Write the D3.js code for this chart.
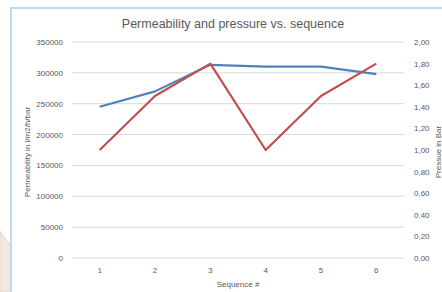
<!DOCTYPE html>
<html><head><meta charset="utf-8">
<script src="https://cdn.jsdelivr.net/npm/d3@7"></script>
<style>html,body{margin:0;padding:0;background:#fff;overflow:hidden}</style>
</head><body>
<svg id="c" width="442" height="292"></svg>
<script>
const categories = ["1","2","3","4","5","6"];
const permeability = [245000, 270000, 313000, 310000, 310000, 298000];
const pressure = [1.00, 1.50, 1.80, 1.00, 1.50, 1.80];
const leftTicks = [0,50000,100000,150000,200000,250000,300000,350000];
const rightTicks = [0,0.2,0.4,0.6,0.8,1.0,1.2,1.4,1.6,1.8,2.0];

const svg = d3.select("#c");
const font = "'Liberation Sans', Arial, sans-serif";
const txt = "#595959";

// background decoration: beige shape bottom-left
svg.append("path").attr("d","M0,231 L11,246 L11,292 L0,292 Z").attr("fill","#f2e9dc").attr("stroke","#d8cfc2").attr("stroke-width",0.6);
// chart frame
svg.append("rect").attr("x",11).attr("y",8).attr("width",440).attr("height",300)
  .attr("fill","#fff").attr("stroke","#bcd9f1").attr("stroke-width",2);

const x = d3.scaleBand().domain(categories).range([72,404]);
const yL = d3.scaleLinear().domain([0,350000]).range([258,42]);
const yR = d3.scaleLinear().domain([0,2]).range([258,42]);

// gridlines
svg.append("g").selectAll("line").data(leftTicks).join("line")
  .attr("x1",72).attr("x2",404).attr("y1",d=>yL(d)).attr("y2",d=>yL(d))
  .attr("stroke","#d9d9d9").attr("stroke-width",1);

// left axis
const gL = svg.append("g").attr("transform","translate(72,0)")
  .call(d3.axisLeft(yL).tickValues(leftTicks).tickSize(0).tickPadding(9).tickFormat(d3.format("d")));
gL.select(".domain").remove();
gL.selectAll("text").attr("fill",txt).style("font-family",font).style("font-size","8px");

// right axis
const gR = svg.append("g").attr("transform","translate(404,0)")
  .call(d3.axisRight(yR).tickValues(rightTicks).tickSize(0).tickPadding(10).tickFormat(d=>d3.format(".2f")(d).replace(".",",")));
gR.select(".domain").remove();
gR.selectAll("text").attr("fill",txt).style("font-family",font).style("font-size","8px");

// bottom axis
const gB = svg.append("g").attr("transform","translate(0,258)")
  .call(d3.axisBottom(x).tickSize(0).tickPadding(9));
gB.select(".domain").remove();
gB.selectAll("text").attr("fill",txt).style("font-family",font).style("font-size","8px");

// lines
const cx = d => x(d) + x.bandwidth()/2;
svg.append("path").datum(categories.map((c,i)=>[cx(c),yL(permeability[i])]))
  .attr("d",d3.line()).attr("fill","none").attr("stroke","#4f81bd").attr("stroke-width",2.2).attr("stroke-linejoin","round");
svg.append("path").datum(categories.map((c,i)=>[cx(c),yR(pressure[i])]))
  .attr("d",d3.line()).attr("fill","none").attr("stroke","#c0504d").attr("stroke-width",2.2).attr("stroke-linejoin","round");

// title
svg.append("text").attr("x",233).attr("y",28).attr("text-anchor","middle")
  .attr("fill",txt).style("font-family",font).style("font-size","12.5px").text("Permeability and pressure vs. sequence");
// axis titles
svg.append("text").attr("transform","translate(30,152) rotate(-90)").attr("text-anchor","middle")
  .attr("fill",txt).style("font-family",font).style("font-size","8px").text("Permeability in l/m2/h/bar");
svg.append("text").attr("transform","translate(441,152) rotate(-90)").attr("text-anchor","middle")
  .attr("fill",txt).style("font-family",font).style("font-size","8px").text("Pressue in Bar");
svg.append("text").attr("x",238).attr("y",287).attr("text-anchor","middle")
  .attr("fill",txt).style("font-family",font).style("font-size","8px").text("Sequence #");
</script>
</body></html>
